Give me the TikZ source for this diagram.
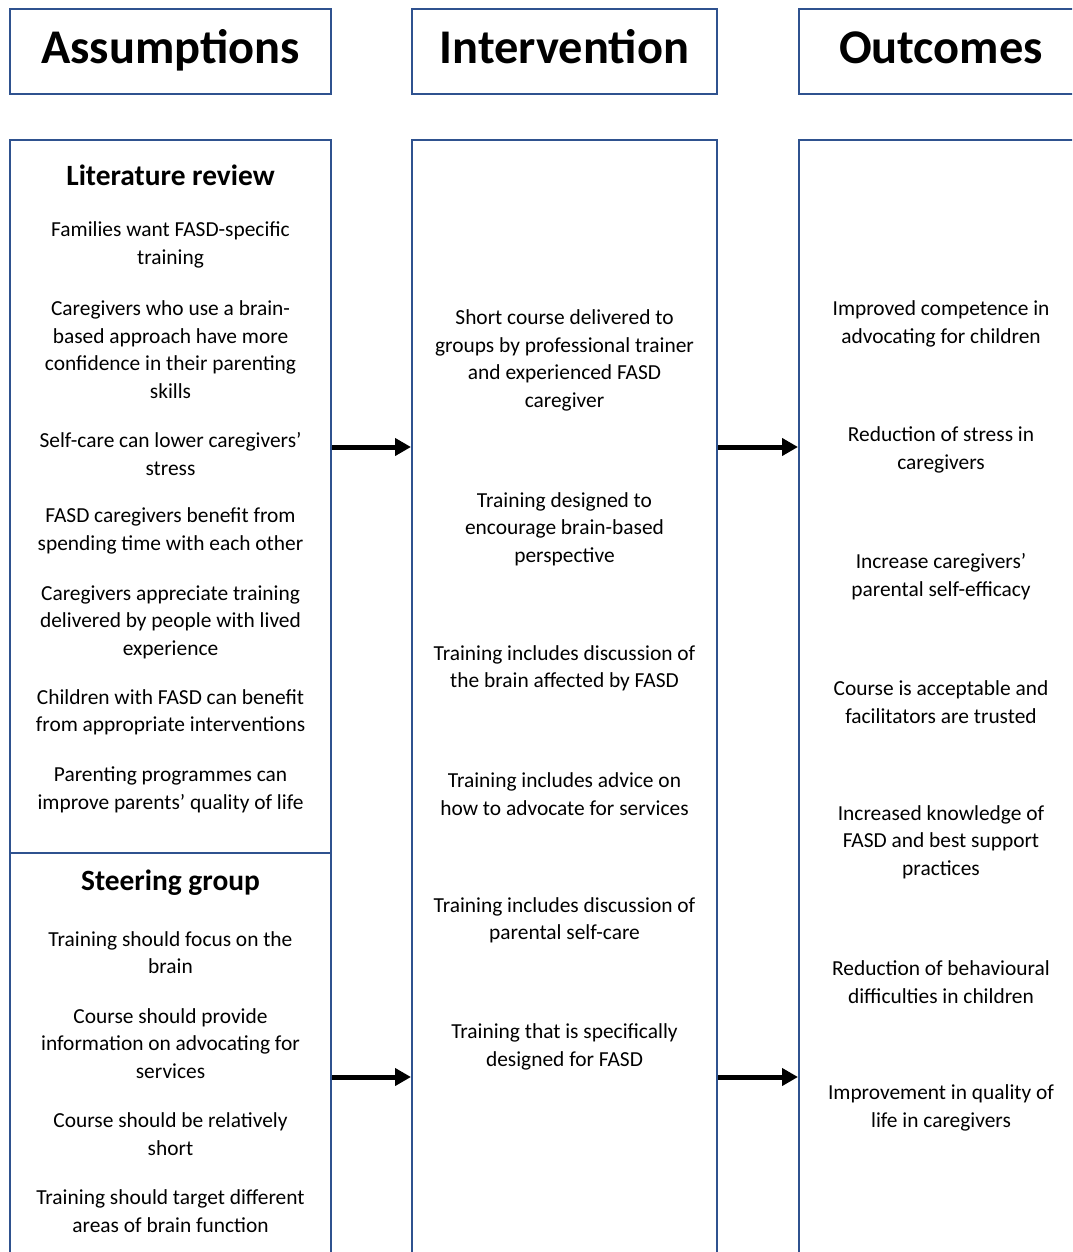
\documentclass[tikz,border=0pt]{standalone}
\usepackage{fontspec}
\setmainfont{Carlito}
\usetikzlibrary{arrows.meta,fit}
\definecolor{FrameBlue}{HTML}{2F528F}

\begin{document}
\begin{tikzpicture}[x=0.5pt,y=-0.5pt,
  frame/.style={draw=FrameBlue,line width=1pt,inner sep=0pt},
  head/.style={font=\bfseries\fontsize{24.2}{29}\selectfont,inner sep=0pt,anchor=base},
  sub/.style={font=\bfseries\fontsize{14.7}{17}\selectfont,inner sep=0pt},
  item/.style={align=center,font=\fontsize{10.7}{13.75}\selectfont,inner sep=0pt,yshift=-1pt},
  arr/.style={-{Triangle[length=8pt,width=8.5pt]},line width=2.5pt}]
  \useasboundingbox (0,0) rectangle (1072,1252);
  \clip (0,0) rectangle (1072,1252);

  % column headers
  \node[frame,fit={(10,9) (331,94)}] (assbox) {};
  \node[frame,fit={(412,9) (717,94)}] (intheadbox) {};
  \node[frame,fit={(799,9) (1083,94)}] (outheadbox) {};
  \node[head] (asshead) at (170.5,64) {Assumptions};
  \node[head] (inthead) at (564.5,64) {Intervention};
  \node[head] (outhead) at (941,64) {Outcomes};

  % column boxes (run past the page)
  \node[frame,fit={(10,140) (331,853)}] (litbox) {};
  \node[frame,fit={(10,853) (331,1300)}] (steerbox) {};
  \node[frame,fit={(412,140) (717,1300)}] (intbox) {};
  \node[frame,fit={(799,140) (1083,1300)}] (outbox) {};

  % assumptions
  \node[sub] (lithead) at (170.5,175) {Literature review};
  \node[item] (lit1) at (170.5,243) {Families want FASD-specific\\training};
  \node[item] (lit2) at (170.5,347.5) {Caregivers who use a brain-\\based approach have more\\confidence in their parenting\\skills};
  \node[item] (lit3) at (170.5,452) {Self-care can lower caregivers’\\stress};
  \node[item] (lit4) at (170.5,529) {FASD caregivers benefit from\\spending time with each other};
  \node[item] (lit5) at (170.5,620) {Caregivers appreciate training\\delivered by people with lived\\experience};
  \node[item] (lit6) at (170.5,710.5) {Children with FASD can benefit\\from appropriate interventions};
  \node[item] (lit7) at (170.5,788) {Parenting programmes can\\improve parents’ quality of life};
  \node[sub] (steerhead) at (170.5,883) {Steering group};
  \node[item] (steer1) at (170.5,950.5) {Training should focus on the\\brain};
  \node[item] (steer2) at (170.5,1041.5) {Course should provide\\information on advocating for\\services};
  \node[item] (steer3) at (170.5,1132) {Course should be relatively\\short};
  \node[item] (steer4) at (170.5,1209) {Training should target different\\areas of brain function};

  % intervention
  \node[item] (int1) at (564.5,358.5) {Short course delivered to\\groups by professional trainer\\and experienced FASD\\caregiver};
  \node[item] (int2) at (564.5,527) {Training designed to\\encourage brain-based\\perspective};
  \node[item] (int3) at (564.5,666.5) {Training includes discussion of\\the brain affected by FASD};
  \node[item] (int4) at (564.5,792) {Training includes advice on\\how to advocate for services};
  \node[item] (int5) at (564.5,918.5) {Training includes discussion of\\parental self-care};
  \node[item] (int6) at (564.5,1045) {Training that is specifically\\designed for FASD};

  % outcomes
  \node[item] (out1) at (941,322) {Improved competence in\\advocating for children};
  \node[item] (out2) at (941,448) {Reduction of stress in\\caregivers};
  \node[item] (out3) at (941,574.5) {Increase caregivers’\\parental self-efficacy};
  \node[item] (out4) at (941,700) {Course is acceptable and\\facilitators are trusted};
  \node[item] (out5) at (941,840) {Increased knowledge of\\FASD and best support\\practices};
  \node[item] (out6) at (941,980) {Reduction of behavioural\\difficulties in children};
  \node[item] (out7) at (941,1106) {Improvement in quality of\\life in caregivers};

  % arrows
  \coordinate (rowa) at (0,447);
  \coordinate (rowb) at (0,1077);
  \draw[arr] (litbox.east |- rowa) -- (intbox.west |- rowa);
  \draw[arr] (intbox.east |- rowa) -- (outbox.west |- rowa);
  \draw[arr] (steerbox.east |- rowb) -- (intbox.west |- rowb);
  \draw[arr] (intbox.east |- rowb) -- (outbox.west |- rowb);
\end{tikzpicture}
\end{document}
